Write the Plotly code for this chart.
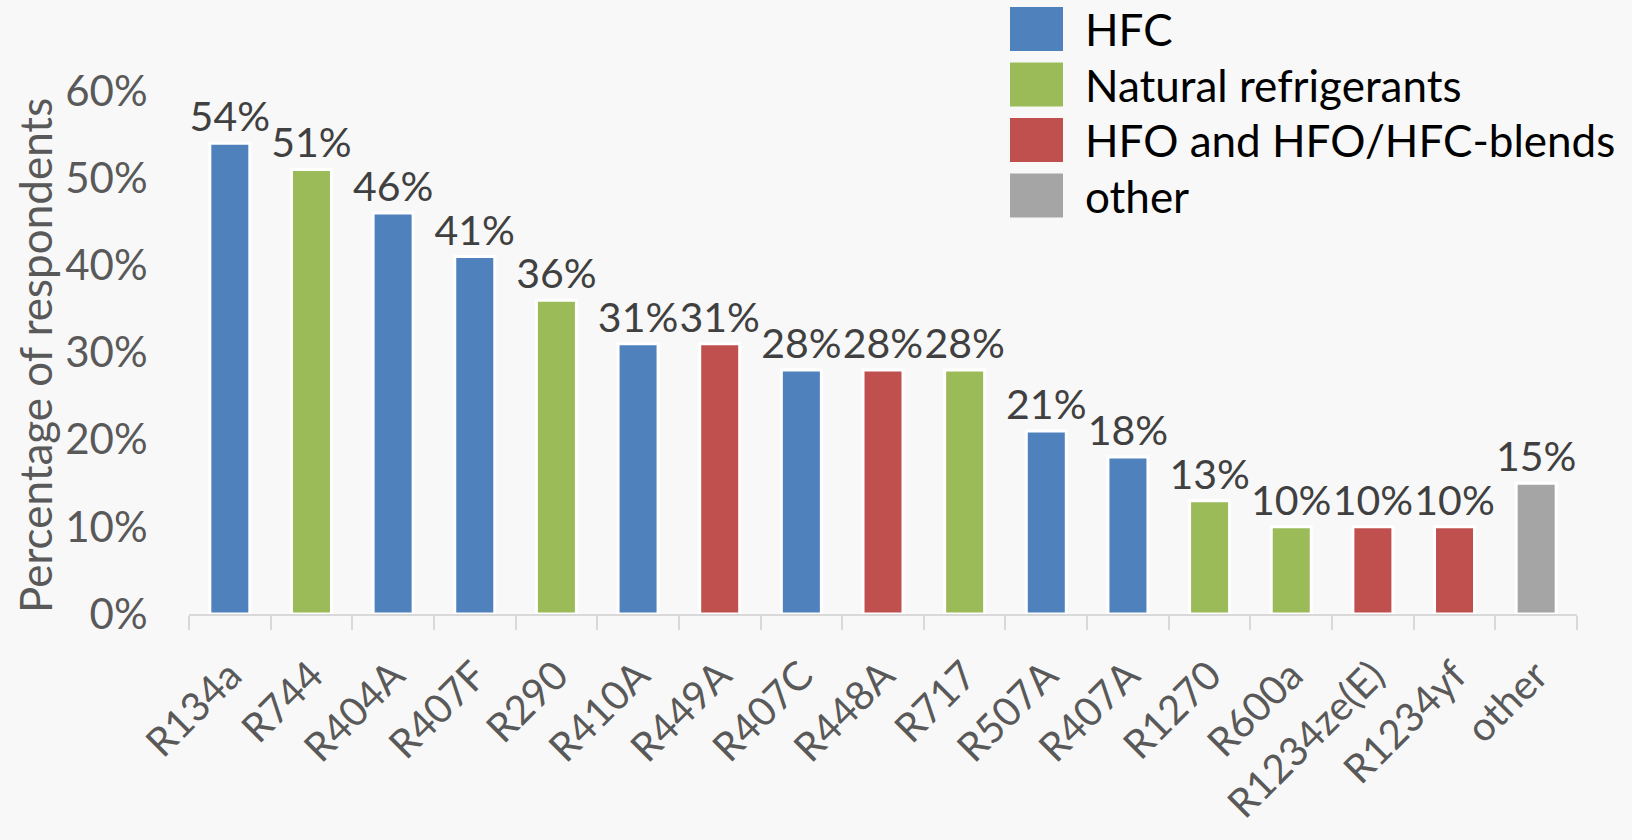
import plotly.graph_objects as go

# Refrigerant usage survey results
refrigerants = ["R134a", "R744", "R404A", "R407F", "R290", "R410A", "R449A", "R407C",
                "R448A", "R717", "R507A", "R407A", "R1270", "R600a", "R1234ze(E)",
                "R1234yf", "other"]
share = [0.54, 0.51, 0.46, 0.41, 0.36, 0.31, 0.31, 0.28, 0.28, 0.28, 0.21, 0.18,
         0.13, 0.10, 0.10, 0.10, 0.15]
group = ["HFC", "Natural refrigerants", "HFC", "HFC", "Natural refrigerants", "HFC",
         "HFO and HFO/HFC-blends", "HFC", "HFO and HFO/HFC-blends", "Natural refrigerants",
         "HFC", "HFC", "Natural refrigerants", "Natural refrigerants",
         "HFO and HFO/HFC-blends", "HFO and HFO/HFC-blends", "other"]
y_ticks = [0, 0.1, 0.2, 0.3, 0.4, 0.5, 0.6]

group_order = ["HFC", "Natural refrigerants", "HFO and HFO/HFC-blends", "other"]
group_colors = {
    "HFC": "#4F81BD",
    "Natural refrigerants": "#9BBB59",
    "HFO and HFO/HFC-blends": "#C0504D",
    "other": "#A5A5A5",
}

FONT = "Lato"
BG = "#F8F8F8"

# plot area in pixels
L, R, T, B = 189, 55, 91, 226
W, H = 1632, 840
PW, PH = W - L - R, H - T - B


def px_x(x):
    return (x - L) / PW


def px_y(y):
    return (H - B - y) / PH


fig = go.Figure()
fig.add_trace(go.Bar(
    x=refrigerants,
    y=share,
    marker=dict(color=[group_colors[g] for g in group],
                line=dict(color="white", width=3)),
    text=[f"{v:.0%}" for v in share],
    textposition="outside",
    textfont=dict(family=FONT, size=41, color="#404040"),
    constraintext="none",
    cliponaxis=False,
    showlegend=False,
))

# Legend: coloured blocks with labels at the top right
for i, g in enumerate(group_order):
    yc = 29 + i * 55.5
    fig.add_shape(type="rect", xref="paper", yref="paper",
                  x0=px_x(1010), x1=px_x(1063),
                  y0=px_y(yc - 22), y1=px_y(yc + 22),
                  fillcolor=group_colors[g], line=dict(width=0), layer="above")
    fig.add_annotation(xref="paper", yref="paper",
                       x=px_x(1083), y=px_y(yc),
                       text=g, showarrow=False, xanchor="left", yanchor="middle",
                       font=dict(family=FONT, size=44, color="#000000"))

# Vertical axis title
fig.add_annotation(xref="paper", yref="paper",
                   x=px_x(35), y=px_y(356),
                   text="Percentage of respondents", textangle=-90, showarrow=False,
                   xanchor="center", yanchor="middle",
                   font=dict(family=FONT, size=44, color="#595959"))

fig.update_layout(
    width=W, height=H,
    paper_bgcolor=BG, plot_bgcolor=BG,
    margin=dict(l=L, r=R, t=T, b=B),
    bargap=0.51,
    font=dict(family=FONT, color="#595959"),
    xaxis=dict(
        categoryorder="array", categoryarray=refrigerants,
        tickangle=-45,
        tickfont=dict(family=FONT, size=40, color="#595959"),
        showline=True, linecolor="#D9D9D9", linewidth=2,
        ticks="outside", tickson="boundaries", ticklen=14,
        tickcolor="#D9D9D9", tickwidth=2,
        ticklabelstandoff=20,
        showgrid=False,
    ),
    yaxis=dict(
        range=[0, 0.6],
        tickvals=y_ticks,
        tickformat=".0%",
        tickfont=dict(family=FONT, size=42, color="#595959"),
        ticks="outside", ticklen=32, tickcolor="rgba(0,0,0,0)",
        showgrid=False, zeroline=False, showline=False,
    ),
)

fig.write_html("out.html")
